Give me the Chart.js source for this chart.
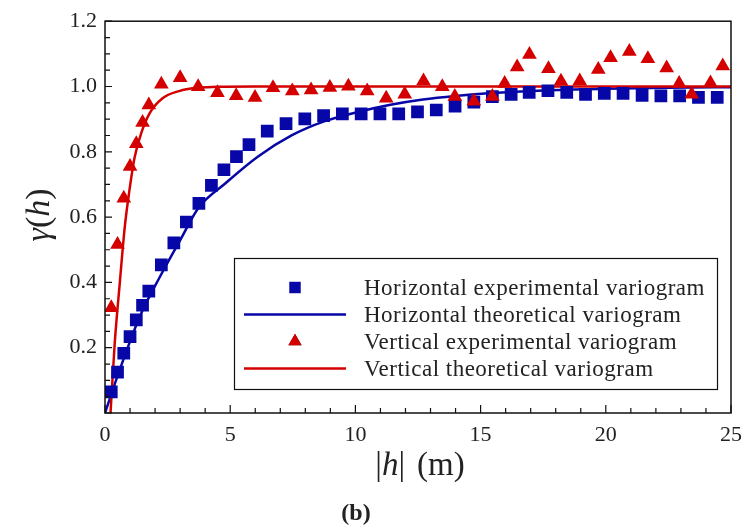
<!DOCTYPE html>
<html>
<head>
<meta charset="utf-8">
<script src="https://cdn.jsdelivr.net/npm/chart.js@4.4.1/dist/chart.umd.min.js"></script>
<style>
  html, body { margin: 0; padding: 0; background: #fff; }
  #wrap { width: 751px; height: 531px; }
</style>
</head>
<body>
<div id="wrap"><canvas id="chart" width="751" height="531"></canvas></div>
<script>
// lag distances and values
const horizExpH = [0.25, 0.5, 0.75, 1.0, 1.25, 1.5, 1.75, 2.25, 2.75, 3.25, 3.75, 4.25, 4.75, 5.25, 5.75,
  6.48, 7.23, 7.98, 8.73, 9.48, 10.23, 10.98, 11.73, 12.48, 13.23, 13.98, 14.73,
  15.47, 16.22, 16.94, 17.69, 18.44, 19.19, 19.94, 20.69, 21.45, 22.2, 22.95, 23.7, 24.45];
const horizExpG = [0.065, 0.125, 0.183, 0.234, 0.285, 0.330, 0.373, 0.454, 0.521, 0.585, 0.642, 0.697, 0.745, 0.785, 0.822,
  0.863, 0.886, 0.901, 0.911, 0.916, 0.916, 0.916, 0.916, 0.922, 0.928, 0.940, 0.952,
  0.969, 0.976, 0.982, 0.987, 0.982, 0.976, 0.979, 0.979, 0.973, 0.971, 0.971, 0.967, 0.967];

const vertExpH = [0.25, 0.5, 0.75, 1.0, 1.25, 1.5, 1.75, 2.25, 3.0, 3.72, 4.49, 5.24, 5.99,
  6.71, 7.48, 8.23, 8.98, 9.72, 10.47, 11.23, 11.97, 12.72, 13.47, 13.97, 14.73,
  15.47, 15.96, 16.46, 16.95, 17.71, 18.21, 18.96, 19.70, 20.19, 20.94, 21.68, 22.43, 22.93, 23.43, 24.18, 24.67];
const vertExpG = [0.322, 0.516, 0.658, 0.755, 0.825, 0.890, 0.943, 1.007, 1.027, 0.999, 0.981, 0.972, 0.966,
  0.996, 0.986, 0.989, 0.997, 1.001, 0.986, 0.964, 0.976, 1.017, 0.999, 0.969, 0.955,
  0.969, 1.009, 1.060, 1.098, 1.054, 1.016, 1.017, 1.052, 1.088, 1.107, 1.085, 1.057, 1.009, 0.976, 1.011, 1.063];

const horizThH = [0, 0.6, 1.4, 2.2, 3.0, 3.75, 4.8, 6.1, 7.45, 8.75, 10.1, 11.4, 12.7, 14.0, 15.3, 17.5, 20, 22.5, 25];
const horizThG = [0, 0.135, 0.297, 0.418, 0.529, 0.630, 0.703, 0.785, 0.850, 0.893, 0.922, 0.944, 0.960, 0.971, 0.979, 0.988, 0.993, 0.996, 0.998];

const vertThH = [0.22, 0.39, 0.59, 0.79, 0.99, 1.18, 1.45, 1.78, 2.3, 2.96, 3.62, 4.5, 6, 25];
const vertThG = [0, 0.216, 0.398, 0.570, 0.690, 0.782, 0.858, 0.918, 0.964, 0.986, 0.996, 0.999, 1.0, 1.0];

const xTicks = [0, 5, 10, 15, 20, 25];
const yTicks = [0.2, 0.4, 0.6, 0.8, 1.0, 1.2];

const labels = [
  "Horizontal experimental variogram",
  "Horizontal theoretical variogram",
  "Vertical experimental variogram",
  "Vertical theoretical variogram"
];

const BLUE = "#0707a8";
const RED = "#d40000";
const SERIF = "'Liberation Serif', 'DejaVu Serif', serif";

const pts = (xs, ys) => xs.map((x, i) => ({ x: x, y: ys[i] }));

// draw a run of text pieces, some italic
function drawParts(ctx, parts, size, cx, cy) {
  ctx.textBaseline = "middle";
  ctx.textAlign = "left";
  let total = 0;
  parts.forEach(p => {
    ctx.font = (p.i ? "italic " : "") + size + "px " + SERIF;
    p.w = ctx.measureText(p.t).width + (p.gap || 0);
    total += p.w;
  });
  let x = cx - total / 2;
  parts.forEach(p => {
    ctx.font = (p.i ? "italic " : "") + size + "px " + SERIF;
    ctx.fillText(p.t, x, cy);
    x += p.w;
  });
}

const framePlugin = {
  id: "frame",
  afterDatasetsDraw(chart) {
    const { ctx, chartArea: a, scales: { x, y } } = chart;
    ctx.save();
    ctx.strokeStyle = "#111";
    ctx.lineWidth = 1.5;
    ctx.strokeRect(a.left, a.top, a.right - a.left, a.bottom - a.top);
    ctx.lineWidth = 1.2;
    ctx.beginPath();
    for (let v = 0; v <= 25; v++) {
      const px = x.getPixelForValue(v);
      const len = v % 5 === 0 ? 8 : 5;
      ctx.moveTo(px, a.bottom);
      ctx.lineTo(px, a.bottom - len);
    }
    for (let k = 0; k <= 24; k++) {
      const py = y.getPixelForValue(k * 0.05);
      const len = k % 4 === 0 ? 7 : 5;
      ctx.moveTo(a.left, py);
      ctx.lineTo(a.left + len, py);
    }
    ctx.stroke();
    ctx.restore();
  },
  afterDraw(chart) {
    const ctx = chart.ctx;
    const ds = chart.data.datasets;
    ctx.save();
    // legend box
    const bx = 234.5, by = 258.5, bw = 483, bh = 131;
    ctx.fillStyle = "#fff";
    ctx.fillRect(bx, by, bw, bh);
    ctx.strokeStyle = "#111";
    ctx.lineWidth = 1.2;
    ctx.strokeRect(bx, by, bw, bh);
    const rows = [287.5, 314.5, 341.5, 368.5];
    ds.forEach((d, i) => {
      const ry = rows[i];
      if (d.showLine) {
        ctx.strokeStyle = d.borderColor;
        ctx.lineWidth = d.borderWidth;
        ctx.beginPath();
        ctx.moveTo(244, ry);
        ctx.lineTo(346, ry);
        ctx.stroke();
      } else {
        Chart.helpers.drawPoint(ctx, {
          pointStyle: d.pointStyle, radius: d.pointRadius * 0.9, rotation: 0,
          borderWidth: 0
        }, 295, ry);
        ctx.fillStyle = d.backgroundColor;
        ctx.fill();
      }
      ctx.fillStyle = "#222";
      ctx.font = "23px " + SERIF;
      ctx.letterSpacing = "0.5px";
      ctx.textAlign = "left";
      ctx.textBaseline = "middle";
      ctx.fillText(labels[i], 364, ry + 1);
      ctx.letterSpacing = "0px";
    });
    // axis titles
    ctx.fillStyle = "#222";
    drawParts(ctx, [{ t: "|" }, { t: "h", i: true }, { t: "|", gap: 12 }, { t: "(m)" }], 33, 420, 466);
    ctx.save();
    ctx.translate(40, 215);
    ctx.rotate(-Math.PI / 2);
    drawParts(ctx, [{ t: "γ", i: true }, { t: "(" }, { t: "h", i: true }, { t: ")" }], 34, 0, 0);
    ctx.restore();
    ctx.font = "bold 24px " + SERIF;
    ctx.textAlign = "center";
    ctx.textBaseline = "middle";
    ctx.fillText("(b)", 356, 514);
    ctx.restore();
  }
};

new Chart(document.getElementById("chart"), {
  type: "scatter",
  data: {
    datasets: [
      {
        label: labels[0],
        data: pts(horizExpH, horizExpG),
        pointStyle: "rect",
        pointRadius: 9,
        backgroundColor: BLUE,
        borderWidth: 0,
        showLine: false,
        order: 1
      },
      {
        label: labels[1],
        data: pts(horizThH, horizThG),
        showLine: true,
        borderColor: BLUE,
        borderWidth: 2.5,
        pointRadius: 0,
        cubicInterpolationMode: "monotone",
        order: 3
      },
      {
        label: labels[2],
        data: pts(vertExpH, vertExpG),
        pointStyle: "triangle",
        pointRadius: 8.5,
        backgroundColor: RED,
        borderWidth: 0,
        showLine: false,
        order: 0
      },
      {
        label: labels[3],
        data: pts(vertThH, vertThG),
        showLine: true,
        borderColor: RED,
        borderWidth: 2.5,
        pointRadius: 0,
        cubicInterpolationMode: "monotone",
        order: 2
      }
    ]
  },
  options: {
    responsive: false,
    animation: false,
    layout: { padding: { left: 0, right: 13, top: 17, bottom: 0 } },
    plugins: { legend: { display: false }, tooltip: { enabled: false } },
    scales: {
      x: {
        type: "linear",
        min: 0,
        max: 25,
        grid: { display: false, drawTicks: false },
        border: { display: false },
        afterBuildTicks: s => { s.ticks = xTicks.map(v => ({ value: v })); },
        afterFit: s => { s.height = 118; },
        ticks: {
          padding: 9,
          color: "#222",
          font: { family: SERIF, size: 22 },
          callback: v => String(v)
        }
      },
      y: {
        type: "linear",
        min: 0,
        max: 1.2,
        grid: { display: false, drawTicks: false },
        border: { display: false },
        afterBuildTicks: s => { s.ticks = yTicks.map(v => ({ value: v })); },
        afterFit: s => { s.width = 105; },
        ticks: {
          padding: 8,
          color: "#222",
          font: { family: SERIF, size: 22 },
          callback: v => v.toFixed(1)
        }
      }
    }
  },
  plugins: [framePlugin]
});
</script>
</body>
</html>
